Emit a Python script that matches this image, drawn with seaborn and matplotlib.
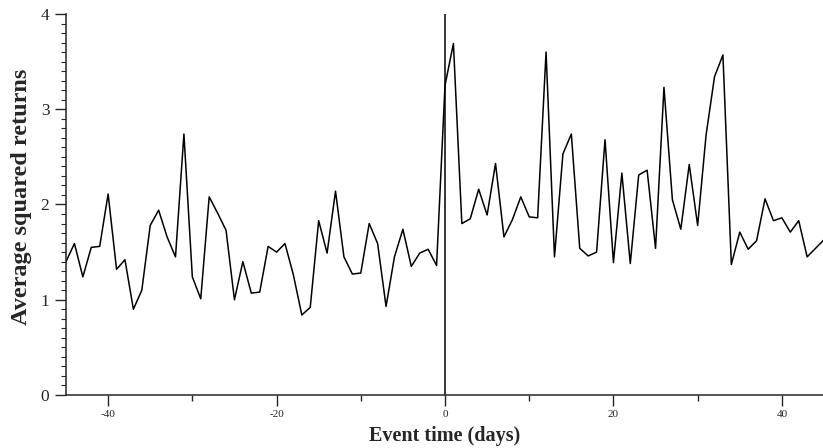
# =========================================
# EVENT STUDY: AVERAGE SQUARED RETURNS
# =========================================

import numpy as np
import pandas as pd
import matplotlib
matplotlib.use("Agg")
import matplotlib.pyplot as plt
import seaborn as sns
from matplotlib.ticker import MultipleLocator


# =========================================
# DATA
# =========================================

event_days = list(range(-45, 46))

pre_event = [
    1.40, 1.59, 1.24, 1.55, 1.56, 2.11, 1.32, 1.42, 0.90, 1.10,
    1.78, 1.94, 1.66, 1.45, 2.74, 1.24, 1.01, 2.08, 1.91, 1.73,
    1.00, 1.40, 1.07, 1.08, 1.56, 1.50, 1.59, 1.26, 0.84, 0.92,
    1.83, 1.49, 2.14, 1.45, 1.27, 1.28, 1.80, 1.59, 0.93, 1.45,
    1.74, 1.35, 1.49, 1.53, 1.36,
]

post_event = [
    3.25, 3.69, 1.80, 1.85, 2.16, 1.89, 2.43, 1.66, 1.84, 2.08,
    1.87, 1.86, 3.60, 1.45, 2.53, 2.74, 1.54, 1.46, 1.50, 2.68,
    1.39, 2.33, 1.38, 2.31, 2.36, 1.54, 3.23, 2.05, 1.74, 2.42,
    1.78, 2.73, 3.34, 3.57, 1.37, 1.71, 1.53, 1.62, 2.06, 1.83,
    1.86, 1.71, 1.83, 1.45, 1.54, 1.63,
]

x_ticks = [-40, -20, 0, 20, 40]
y_ticks = [0, 1, 2, 3, 4]

df = pd.DataFrame({
    "day": event_days,
    "sq_ret": pre_event + post_event,
})


# =========================================
# STYLE
# =========================================

sns.set_style("ticks")

plt.rcParams["font.family"] = ["Liberation Serif", "DejaVu Serif"]


# =========================================
# PLOT
# =========================================

fig = plt.figure(figsize=(8.23, 4.48), dpi=100)

ax = fig.add_axes([0.0802, 0.1183, 0.9210, 0.8505])

sns.lineplot(
    data=df,
    x="day",
    y="sq_ret",
    color="black",
    linewidth=1.1,
    ax=ax
)

# event day marker
ax.axvline(0, color="black", linewidth=1.1)

ax.set_xlim(-45, 45)
ax.set_ylim(0, 4)

ax.set_xticks(x_ticks)
ax.set_xticklabels([str(t) for t in x_ticks])
ax.xaxis.set_minor_locator(MultipleLocator(10))

ax.set_yticks(y_ticks)
ax.set_yticklabels([str(t) for t in y_ticks])
ax.yaxis.set_minor_locator(MultipleLocator(0.1))

ax.tick_params(axis="x", which="major", length=8, width=1,
               labelsize=8, pad=3)
ax.tick_params(axis="x", which="minor", length=4, width=1)
ax.tick_params(axis="y", which="major", length=8, width=1,
               labelsize=12.5, pad=4)
ax.tick_params(axis="y", which="minor", length=3.5, width=0.8)

sns.despine(ax=ax)

for side in ["left", "bottom"]:
    ax.spines[side].set_linewidth(1.1)

ax.set_xlabel("Event time (days)", fontsize=14.5, fontweight="bold")
ax.xaxis.set_label_coords(0.5, -0.082)

ax.set_ylabel("Average squared returns", fontsize=17.5,
              fontweight="bold")
ax.yaxis.set_label_coords(-0.045, 0.52)

fig.savefig("out.png", dpi=100)
